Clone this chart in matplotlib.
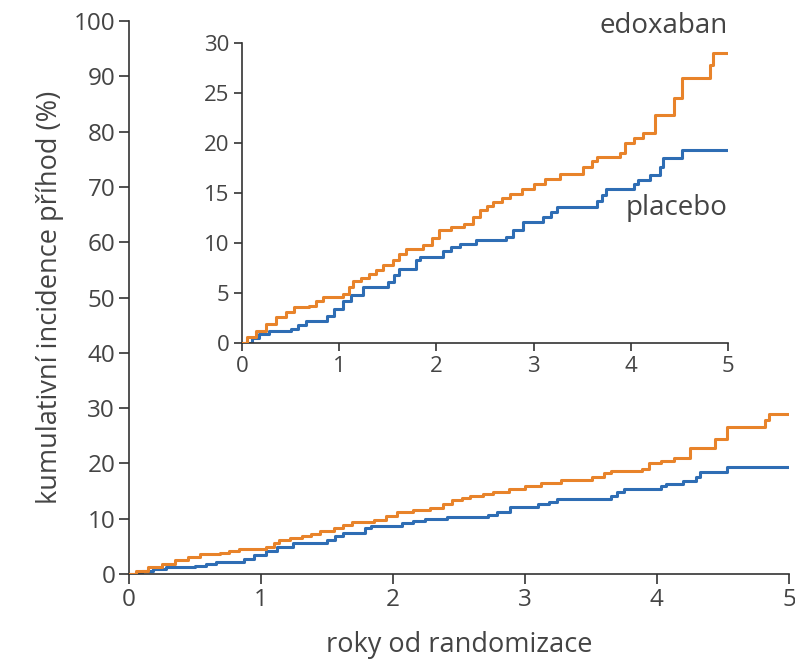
import matplotlib
matplotlib.use("Agg")
import matplotlib.pyplot as plt

plt.rcParams["font.family"] = ["Open Sans", "DejaVu Sans"]

# kumulativni incidence (%) - schodovite krivky
edox_t = [0, 0.05, 0.14, 0.25, 0.35, 0.45, 0.54, 0.69, 0.76, 0.83, 1.04, 1.10,
          1.14, 1.22, 1.31, 1.38, 1.45, 1.55, 1.62, 1.69, 1.86, 1.95, 2.03,
          2.15, 2.28, 2.38, 2.45, 2.52, 2.58, 2.68, 2.76, 2.88, 3.00, 3.12,
          3.27, 3.51, 3.60, 3.65, 3.89, 3.94, 4.03, 4.13, 4.25, 4.44, 4.53,
          4.82, 4.85, 5.00]
edox_y = [0, 0.6, 1.2, 1.9, 2.6, 3.1, 3.6, 3.75, 4.2, 4.6, 4.9, 5.6,
          6.2, 6.5, 6.9, 7.3, 7.8, 8.3, 8.9, 9.4, 9.8, 10.5, 11.3,
          11.6, 11.9, 12.6, 13.3, 13.7, 14.1, 14.5, 14.9, 15.4, 15.95, 16.4,
          16.96, 17.6, 18.2, 18.6, 19.0, 20.0, 20.5, 21.0, 22.8, 24.5, 26.5,
          27.8, 29.0, 29.0]

plac_t = [0, 0.10, 0.18, 0.28, 0.50, 0.58, 0.66, 0.87, 0.95, 1.04, 1.12, 1.24,
          1.50, 1.56, 1.62, 1.79, 1.83, 2.07, 2.15, 2.24, 2.41, 2.72, 2.79,
          2.89, 3.10, 3.18, 3.24, 3.65, 3.70, 3.75, 4.03, 4.07, 4.20, 4.30,
          4.33, 4.53, 5.00]
plac_y = [0, 0.5, 0.9, 1.24, 1.4, 1.8, 2.2, 2.7, 3.4, 4.2, 4.8, 5.6,
          6.1, 6.8, 7.4, 8.3, 8.6, 9.2, 9.6, 9.9, 10.3, 10.6, 11.3,
          12.1, 12.6, 13.1, 13.6, 14.2, 14.8, 15.45, 15.9, 16.3, 16.8, 17.6,
          18.5, 19.3, 19.3]

ORANGE = "#e8832a"
BLUE = "#2e6db4"
TXT = "#444444"
AX = "#333333"


def style(ax, ticksize, ticklen):
    for s in ("top", "right"):
        ax.spines[s].set_visible(False)
    for s in ("left", "bottom"):
        ax.spines[s].set_color(AX)
        ax.spines[s].set_linewidth(1.2)
    ax.tick_params(direction="out", length=ticklen, width=1.2, color=AX,
                   labelsize=ticksize, labelcolor=TXT, pad=3)


fig = plt.figure(figsize=(7.95, 6.65), dpi=100, facecolor="white")

# hlavni graf
ax = fig.add_axes([0.1623, 0.1368, 0.830, 0.8316])
ax.step(edox_t, edox_y, where="post", color=ORANGE, lw=2.2, zorder=3)
ax.step(plac_t, plac_y, where="post", color=BLUE, lw=2.2, zorder=2)
ax.set_xlim(0, 5)
ax.set_ylim(0, 100)
ax.set_xticks(range(0, 6))
ax.set_yticks(range(0, 101, 10))
style(ax, 17.5, 7)
ax.set_xlabel("roky od randomizace", fontsize=19.5, color=TXT, labelpad=14)
ax.set_ylabel("kumulativní incidence příhod (%)", fontsize=19.5, color=TXT,
              labelpad=7)

# vlozeny graf
ins = fig.add_axes([0.3044, 0.4842, 0.6113, 0.4504])
ins.patch.set_alpha(0)
ins.step(edox_t, edox_y, where="post", color=ORANGE, lw=2.2, zorder=3)
ins.step(plac_t, plac_y, where="post", color=BLUE, lw=2.2, zorder=2)
ins.set_xlim(0, 5)
ins.set_ylim(0, 30)
ins.set_xticks(range(0, 6))
ins.set_yticks(range(0, 31, 5))
style(ins, 16, 6)

ins.text(5, 30.3, "edoxaban", ha="right", va="bottom", fontsize=20,
         color=TXT, clip_on=False)
ins.text(5, 13.5, "placebo", ha="right", va="center", fontsize=20,
         color=TXT)

fig.savefig("out.png", dpi=100, facecolor="white")
